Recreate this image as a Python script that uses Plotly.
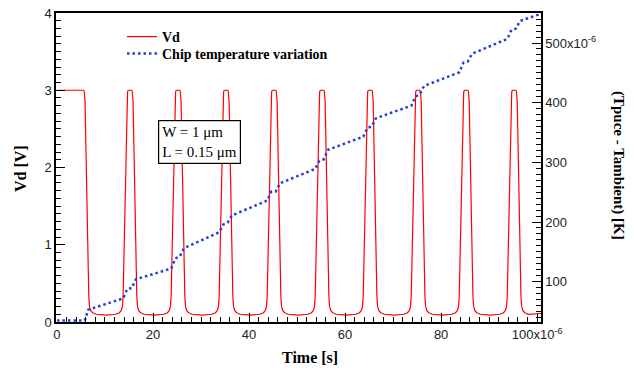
import plotly.graph_objects as go

# ---- Vd waveform (time in units of 1e-6 s, voltage in V) ----
vd_time = [
    0.0, 5.55, 5.7, 5.85, 6.62, 6.75, 7.0, 7.4, 8.2, 10.2,
    12.2, 13.0, 13.4, 13.65, 13.78, 14.55, 14.7, 14.85, 15.55, 15.7, 15.85, 16.62, 16.75, 17.0, 17.4, 18.2, 20.2,
    22.2, 23.0, 23.4, 23.65, 23.78, 24.55, 24.7, 24.85, 25.55, 25.7, 25.85, 26.62, 26.75, 27.0, 27.4, 28.2, 30.2,
    32.2, 33.0, 33.4, 33.65, 33.78, 34.55, 34.7, 34.85, 35.55, 35.7, 35.85, 36.62, 36.75, 37.0, 37.4, 38.2, 40.2,
    42.2, 43.0, 43.4, 43.65, 43.78, 44.55, 44.7, 44.85, 45.55, 45.7, 45.85, 46.62, 46.75, 47.0, 47.4, 48.2, 50.2,
    52.2, 53.0, 53.4, 53.65, 53.78, 54.55, 54.7, 54.85, 55.55, 55.7, 55.85, 56.62, 56.75, 57.0, 57.4, 58.2, 60.2,
    62.2, 63.0, 63.4, 63.65, 63.78, 64.55, 64.7, 64.85, 65.55, 65.7, 65.85, 66.62, 66.75, 67.0, 67.4, 68.2, 70.2,
    72.2, 73.0, 73.4, 73.65, 73.78, 74.55, 74.7, 74.85, 75.55, 75.7, 75.85, 76.62, 76.75, 77.0, 77.4, 78.2, 80.2,
    82.2, 83.0, 83.4, 83.65, 83.78, 84.55, 84.7, 84.85, 85.55, 85.7, 85.85, 86.62, 86.75, 87.0, 87.4, 88.2, 90.2,
    92.2, 93.0, 93.4, 93.65, 93.78, 94.55, 94.7, 94.85, 95.55, 95.7, 95.85, 96.62, 96.75, 97.0, 97.4, 98.2, 100.8,
]
vd_volt = [
    3.0, 3.0, 2.98, 2.85, 0.35, 0.21, 0.15, 0.12, 0.10, 0.09,
    0.10, 0.12, 0.15, 0.21, 0.35, 2.85, 2.98, 3.0, 3.0, 2.98, 2.85, 0.35, 0.21, 0.15, 0.12, 0.10, 0.09,
    0.10, 0.12, 0.15, 0.21, 0.35, 2.85, 2.98, 3.0, 3.0, 2.98, 2.85, 0.35, 0.21, 0.15, 0.12, 0.10, 0.09,
    0.10, 0.12, 0.15, 0.21, 0.35, 2.85, 2.98, 3.0, 3.0, 2.98, 2.85, 0.35, 0.21, 0.15, 0.12, 0.10, 0.09,
    0.10, 0.12, 0.15, 0.21, 0.35, 2.85, 2.98, 3.0, 3.0, 2.98, 2.85, 0.35, 0.21, 0.15, 0.12, 0.10, 0.09,
    0.10, 0.12, 0.15, 0.21, 0.35, 2.85, 2.98, 3.0, 3.0, 2.98, 2.85, 0.35, 0.21, 0.15, 0.12, 0.10, 0.09,
    0.10, 0.12, 0.15, 0.21, 0.35, 2.85, 2.98, 3.0, 3.0, 2.98, 2.85, 0.35, 0.21, 0.15, 0.12, 0.10, 0.09,
    0.10, 0.12, 0.15, 0.21, 0.35, 2.85, 2.98, 3.0, 3.0, 2.98, 2.85, 0.35, 0.21, 0.15, 0.12, 0.10, 0.09,
    0.10, 0.12, 0.15, 0.21, 0.35, 2.85, 2.98, 3.0, 3.0, 2.98, 2.85, 0.35, 0.21, 0.15, 0.12, 0.10, 0.09,
    0.10, 0.12, 0.15, 0.21, 0.35, 2.85, 2.98, 3.0, 3.0, 2.98, 2.85, 0.35, 0.21, 0.15, 0.12, 0.10, 0.11,
]

# ---- Chip temperature variation (time 1e-6 s, delta T in 1e-6 K) ----
temp_time = [0.0, 5.8, 6.5, 13.8, 14.65, 15.55, 16.45, 23.8, 24.65, 25.55, 26.45,
             33.8, 34.65, 35.55, 36.45, 43.8, 44.65, 45.55, 46.45, 53.8, 54.65, 55.55, 56.45,
             63.8, 64.65, 65.55, 66.45, 73.8, 74.65, 75.55, 76.45, 83.8, 84.65, 85.55, 86.45,
             93.8, 94.65, 95.55, 96.45, 100.8]
temp_val = [35, 35, 53, 72, 88, 89, 104, 122, 139, 142, 156,
            183, 196, 199, 211, 236, 251, 251, 265, 289, 303, 305, 321,
            343, 358, 360, 374, 395, 410, 414, 428, 451, 467, 469, 482,
            507, 522, 524, 537, 549]

x_tickvals = [0, 20, 40, 60, 80, 100]
x_ticktext = ["0", "20", "40", "60", "80", "100x10<sup>-6</sup>"]
y_tickvals = [0, 1, 2, 3, 4]
y2_tickvals = [100, 200, 300, 400, 500]
y2_ticktext = ["100", "200", "300", "400", "500x10<sup>-6</sup>"]

serif = "Liberation Serif, Times New Roman, serif"
sans = "Liberation Sans, Arial, sans-serif"

L, R, T, B = 56, 541, 13, 322
PW, PH = R - L, B - T


def px(x):
    return (x - L) / PW


def py(y):
    return 1 - (y - T) / PH


fig = go.Figure()
fig.add_trace(go.Scatter(x=vd_time, y=vd_volt, mode="lines", name="<b>Vd</b>",
                         legend="legend",
                         line=dict(color="#ff0000", width=1.2)))
fig.add_trace(go.Scatter(x=temp_time, y=temp_val, mode="lines", name="<b>Chip temperature variation</b>",
                         yaxis="y2", legend="legend2",
                         line=dict(color="#1f3fd6", width=2.5, dash="2.5px,3px")))

leg_common = dict(xanchor="left", yanchor="middle",
                  font=dict(family=serif, size=14, color="black"),
                  bgcolor="rgba(0,0,0,0)", itemwidth=30)

fig.update_layout(
    width=634, height=371,
    margin=dict(l=L, r=634 - R, t=T, b=371 - B, autoexpand=False),
    paper_bgcolor="white", plot_bgcolor="white",
    showlegend=True,
    legend=dict(x=px(122), y=py(37), **leg_common),
    legend2=dict(x=px(122), y=py(54), **leg_common),
    xaxis=dict(range=[-0.2, 100.8], tickvals=x_tickvals, ticktext=x_ticktext,
               ticks="inside", ticklen=9, tickwidth=1.2, tickcolor="black",
               minor=dict(dtick=2, ticks="inside", ticklen=5, tickwidth=1, tickcolor="black"),
               showline=True, linecolor="black", linewidth=1.5, mirror=True,
               showgrid=False, zeroline=False, automargin=False,
               tickfont=dict(family=sans, size=13, color="#222")),
    yaxis=dict(range=[0, 4], tickvals=y_tickvals,
               ticks="inside", ticklen=9, tickwidth=1.2, tickcolor="black",
               minor=dict(dtick=0.1, ticks="inside", ticklen=5, tickwidth=1, tickcolor="black"),
               showline=True, linecolor="black", linewidth=1.5,
               showgrid=False, zeroline=False, automargin=False,
               tickfont=dict(family=sans, size=13, color="#222")),
    yaxis2=dict(range=[32.4, 550.3], overlaying="y", side="right", anchor="x",
                tickvals=y2_tickvals, ticktext=y2_ticktext,
                ticks="inside", ticklen=9, tickwidth=1.2, tickcolor="black",
                minor=dict(dtick=10, ticks="inside", ticklen=5, tickwidth=1, tickcolor="black"),
                showline=True, linecolor="black", linewidth=1.5,
                showgrid=False, zeroline=False, automargin=False,
                tickfont=dict(family=sans, size=13, color="#222")),
)

fig.add_annotation(text="W = 1 μm<br>L = 0.15 μm", xref="paper", yref="paper",
                   x=px(158), y=py(120), xanchor="left", yanchor="top",
                   showarrow=False, align="left", bgcolor="white",
                   bordercolor="black", borderwidth=1.2, borderpad=3,
                   font=dict(family=serif, size=15, color="black"))
fig.add_annotation(text="<b>Vd [V]</b>", xref="paper", yref="paper",
                   x=px(20), y=py(169), xanchor="center", yanchor="middle",
                   showarrow=False, textangle=-90,
                   font=dict(family=serif, size=16, color="black"))
fig.add_annotation(text="<b>Time [s]</b>", xref="paper", yref="paper",
                   x=px(310), y=py(357), xanchor="center", yanchor="middle",
                   showarrow=False,
                   font=dict(family=serif, size=16, color="black"))
fig.add_annotation(text="<b>(Tpuce - Tambient) [K]</b>", xref="paper", yref="paper",
                   x=px(618), y=py(165), xanchor="center", yanchor="middle",
                   showarrow=False, textangle=90,
                   font=dict(family=serif, size=15, color="black"))

fig.write_html("out.html", config={"displayModeBar": False},
               post_script="document.body.style.margin='0';document.body.style.padding='0';")
